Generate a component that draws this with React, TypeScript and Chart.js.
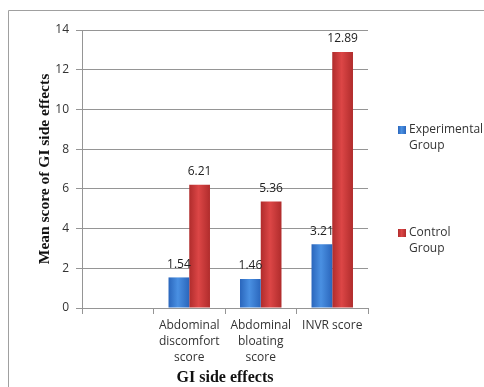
import React, { useEffect, useRef } from "react";
import { Chart, registerables } from "chart.js";

Chart.register(...registerables);

const categories: (string | string[])[] = [
  "",
  ["Abdominal", "discomfort", "score"],
  ["Abdominal", "bloating", "score"],
  "INVR score",
];
const experimentalValues: (number | null)[] = [null, 1.54, 1.46, 3.21];
const controlValues: (number | null)[] = [null, 6.21, 5.36, 12.89];
const seriesLabels: string[][] = [
  ["Experimental", "Group"],
  ["Control", "Group"],
];
const yMin = 0;
const yMax = 14;
const yStep = 2;
const xTitle = "GI side effects";
const yTitle = "Mean score of GI side effects";

const W = 484;
const H = 387;

const palettes = [
  { edge: "#2a66bc", mid: "#4a90e2" },
  { edge: "#b02c2c", mid: "#dc4646" },
];

function makeGrad(ctx: CanvasRenderingContext2D, x0: number, x1: number, p: any) {
  const g = ctx.createLinearGradient(x0, 0, x1, 0);
  g.addColorStop(0, p.edge);
  g.addColorStop(0.45, p.mid);
  g.addColorStop(1, p.edge);
  return g;
}

const frame = {
  id: "frame",
  beforeDraw(chart: any) {
    const ctx = chart.ctx;
    ctx.save();
    ctx.strokeStyle = "#a0a0a0";
    ctx.lineWidth = 1;
    ctx.beginPath();
    ctx.moveTo(8.5, chart.height);
    ctx.lineTo(8.5, 10.5);
    ctx.lineTo(chart.width, 10.5);
    ctx.stroke();
    ctx.restore();
  },
};

const gradientBars = {
  id: "gradientBars",
  beforeDatasetsDraw(chart: any) {
    const ctx = chart.ctx;
    chart.data.datasets.forEach((ds: any, di: number) => {
      const meta = chart.getDatasetMeta(di);
      meta.data.forEach((el: any) => {
        const half = el.width / 2;
        const g = makeGrad(ctx, el.x - half, el.x + half, palettes[di]);
        el.options = Object.assign({}, el.options, { backgroundColor: g });
      });
    });
  },
};

const valueLabels = {
  id: "valueLabels",
  afterDatasetsDraw(chart: any) {
    const ctx = chart.ctx;
    ctx.save();
    ctx.font = '12px "Open Sans"';
    ctx.fillStyle = "#222";
    ctx.textAlign = "center";
    ctx.textBaseline = "middle";
    chart.data.datasets.forEach((ds: any, di: number) => {
      const meta = chart.getDatasetMeta(di);
      meta.data.forEach((el: any, i: number) => {
        const v = ds.data[i];
        if (v === null || v === undefined) return;
        ctx.fillText(Number(v).toFixed(2), el.x, el.y - 13);
      });
    });
    ctx.restore();
  },
};

const sideLegend = {
  id: "sideLegend",
  afterDraw(chart: any) {
    const ctx = chart.ctx;
    const area = chart.chartArea;
    const x = area.right + 30;
    const rows = [area.top + 100, area.top + 203];
    ctx.save();
    ctx.font = '12px "Open Sans"';
    ctx.textBaseline = "middle";
    ctx.textAlign = "left";
    seriesLabels.forEach((lines, i) => {
      const y = rows[i];
      ctx.fillStyle = makeGrad(ctx, x, x + 8, palettes[i]);
      ctx.fillRect(x, y - 4, 8, 8);
      ctx.fillStyle = "#333";
      lines.forEach((ln, j) => ctx.fillText(ln, x + 11, y + j * 16));
    });
    ctx.restore();
  },
};

export default function App() {
  const ref = useRef<HTMLCanvasElement | null>(null);

  useEffect(() => {
    const canvas = ref.current;
    if (!canvas) return;
    const gridColor = "#959595";
    const chart = new Chart(canvas, {
      type: "bar",
      data: {
        labels: categories as any,
        datasets: [
          {
            label: seriesLabels[0].join(" "),
            data: experimentalValues,
            backgroundColor: palettes[0].mid,
            borderWidth: 0,
          },
          {
            label: seriesLabels[1].join(" "),
            data: controlValues,
            backgroundColor: palettes[1].mid,
            borderWidth: 0,
          },
        ],
      },
      options: {
        responsive: false,
        animation: false,
        datasets: { bar: { barPercentage: 1, categoryPercentage: 0.58 } },
        layout: { padding: { left: 36, top: 30, right: 116, bottom: 0 } },
        plugins: {
          legend: { display: false },
          tooltip: { enabled: false },
        },
        scales: {
          x: {
            type: "category",
            grid: {
              offset: true,
              drawOnChartArea: false,
              tickLength: 6,
              color: gridColor,
            },
            border: { color: gridColor },
            ticks: {
              font: { family: "Open Sans", size: 12, lineHeight: 1.35 },
              color: "#333",
              padding: 3,
              maxRotation: 0,
              autoSkip: false,
            },
            title: {
              display: true,
              text: xTitle,
              font: { family: "Liberation Serif", weight: "bold", size: 16 },
              color: "#111",
              padding: { top: 0, bottom: 0 },
            },
            afterFit(scale: any) {
              scale.height = 79;
            },
          },
          y: {
            min: yMin,
            max: yMax,
            grid: { color: gridColor, tickLength: 6 },
            border: { color: gridColor },
            ticks: {
              stepSize: yStep,
              font: { family: "Open Sans", size: 12 },
              color: "#333",
              padding: 7,
            },
            title: {
              display: true,
              text: yTitle,
              font: { family: "Liberation Serif", weight: "bold", size: 15.5 },
              color: "#111",
              padding: { top: 0, bottom: 0 },
            },
            afterFit(scale: any) {
              scale.width = 46;
            },
          },
        },
      },
      plugins: [frame, gradientBars, valueLabels, sideLegend],
    });
    return () => chart.destroy();
  }, []);

  return (
    <canvas
      ref={ref}
      width={W}
      height={H}
      style={{ position: "fixed", left: 0, top: 0, display: "block", background: "#fff" }}
    />
  );
}
